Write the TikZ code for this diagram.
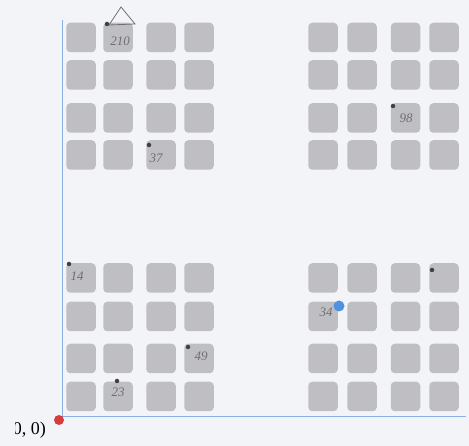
\documentclass[tikz,border=0pt]{standalone}
\usepackage{fontspec}
\setmainfont{Liberation Serif}
\definecolor{paper}{RGB}{243,244,248}
\definecolor{cell}{RGB}{190,190,195}
\definecolor{axisblue}{RGB}{140,178,228}
\definecolor{dotred}{RGB}{214,60,62}
\definecolor{dotblue}{RGB}{80,145,225}
\definecolor{pencil}{RGB}{110,110,115}
\tikzset{
  cellbox/.style={fill=cell, rounded corners=4pt, minimum width=29.5pt, minimum height=29.5pt, inner sep=0pt, draw=none},
  axisline/.style={draw=axisblue, line width=1pt},
  inkdot/.style={circle, fill=black!75, inner sep=0pt, minimum size=4.5pt},
  pencilnum/.style={font=\itshape\fontsize{13}{13}\selectfont, text=pencil, inner sep=0pt}
}
\begin{document}
\begin{tikzpicture}[x=1pt,y=-1pt]
\fill[paper] (0,0) rectangle (469,446);
\useasboundingbox (0,0) rectangle (469,446);
\clip (0,0) rectangle (469,446);
% axes
\coordinate (top) at (62.5,20);
\coordinate (orig) at (62.5,417);
\coordinate (xend) at (466,417);
\draw[axisline] (top) -- (orig) -- (xend);
% cells
\foreach \cx/\ci in {81/1,118/2,161/3,199/4,323/5,362/6,405.5/7,444/8}{
  \foreach \cy/\cj in {37.5/1,75/2,118/3,155/4,278/5,316.5/6,358.5/7,396.5/8}{
    \node[cellbox] (c\ci\cj) at (\cx,\cy) {};
  }
}
% origin
\node[circle, fill=dotred, inner sep=0pt, minimum size=10pt] (o) at (59,420) {};
\begin{scope}
\clip (15,400) rectangle (60,446);
\node[anchor=east, font=\fontsize{18}{18}\selectfont, inner sep=0pt] (olab) at (46,430) {(0, 0)};
\end{scope}
% blue point
\node[circle, fill=dotblue, inner sep=0pt, minimum size=11pt] (bp) at (339,306) {};
% ink marks
\node[inkdot] (d1) at (107,24) {};
\node[inkdot] (d2) at (149,145) {};
\node[inkdot] (d3) at (393,106) {};
\node[inkdot] (d4) at (69,264) {};
\node[inkdot] (d5) at (188,347) {};
\node[inkdot] (d6) at (117,381) {};
\node[inkdot] (d7) at (432,270) {};
\node[pencilnum] (n1) at (120,41) {210};
\node[pencilnum] (n2) at (156,158) {37};
\node[pencilnum] (n3) at (406,118) {98};
\node[pencilnum] (n4) at (77,276) {14};
\node[pencilnum] (n5) at (201,356) {49};
\node[pencilnum] (n6) at (118,392) {23};
\node[pencilnum] (n7) at (326,312) {34};
\draw[pencil, line width=0.8pt] (109,25) -- (135,24) -- (121,7) -- cycle;
\end{tikzpicture}
\end{document}
